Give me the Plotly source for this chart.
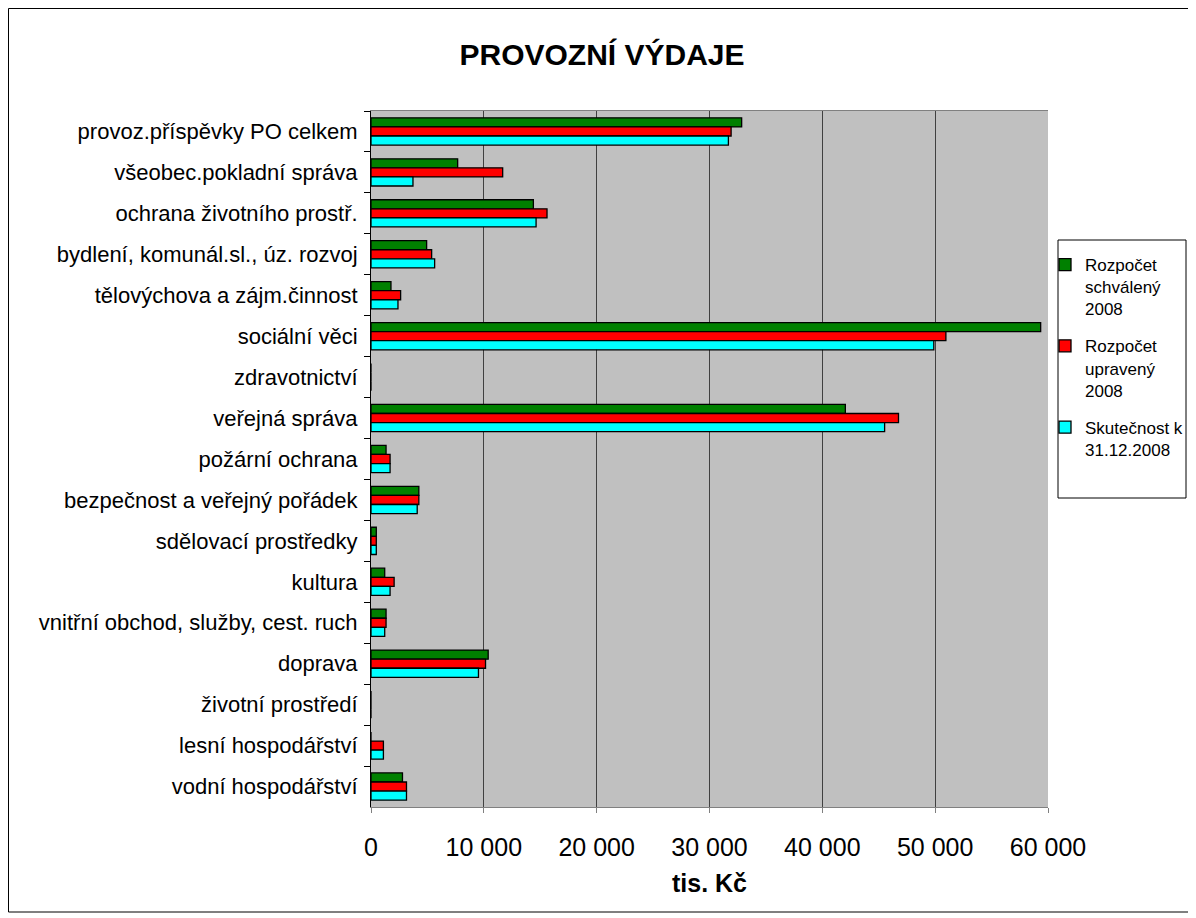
import plotly.graph_objects as go

categories = [
    "provoz.příspěvky PO celkem",
    "všeobec.pokladní správa",
    "ochrana životního prostř.",
    "bydlení, komunál.sl., úz. rozvoj",
    "tělovýchova a zájm.činnost",
    "sociální věci",
    "zdravotnictví",
    "veřejná správa",
    "požární ochrana",
    "bezpečnost a veřejný pořádek",
    "sdělovací prostředky",
    "kultura",
    "vnitřní obchod, služby, cest. ruch",
    "doprava",
    "životní prostředí",
    "lesní hospodářství",
    "vodní hospodářství",
]

schvaleny = [32850, 7680, 14390, 4930, 1770, 59350, 0, 42040, 1335, 4240, 470, 1215, 1335, 10385, 0, 0, 2790]
upraveny = [31915, 11670, 15600, 5375, 2625, 50950, 0, 46750, 1690, 4240, 470, 2050, 1335, 10150, 0, 1100, 3145]
skutecnost = [31675, 3720, 14630, 5640, 2390, 49880, 0, 45520, 1690, 4095, 470, 1690, 1215, 9525, 0, 1100, 3145]

series_names = ["Rozpočet<br>schválený<br>2008", "Rozpočet<br>upravený<br>2008", "Skutečnost k<br>31.12.2008"]
series_values = [schvaleny, upraveny, skutecnost]
series_colors = ["#008000", "#FF0000", "#00FFFF"]

x_ticks = [0, 10000, 20000, 30000, 40000, 50000, 60000]
x_ticktext = ["0", "10 000", "20 000", "30 000", "40 000", "50 000", "60 000"]

OFF = 8  # page body margin
W, H = 1196 - OFF, 918 - OFF
PL, PR, PT, PB = 371, 1048, 111, 807  # plot area in page pixels
L, R, T, B = PL - OFF, W - (PR - OFF), PT - OFF, H - (PB - OFF)
pw, ph = W - L - R, H - T - B

def px(x):
    return (x - OFF - L) / pw

def py(y):
    return (H - B - (y - OFF)) / ph

fig = go.Figure()
for i, (name, vals, col) in enumerate(zip(series_names, series_values, series_colors)):
    fig.add_trace(go.Bar(
        y=categories, x=vals, name=name, orientation="h", legendgroup=f"g{i}",
        marker=dict(color=col, line=dict(color="black", width=1.3)),
    ))

fig.update_layout(
    width=W, height=H,
    margin=dict(l=L, r=R, t=T, b=B, autoexpand=False),
    paper_bgcolor="white",
    plot_bgcolor="#C0C0C0",
    barmode="group",
    bargap=0.335,
    bargroupgap=0,
    font=dict(family="Liberation Sans, Arial, sans-serif", color="black"),
    title=dict(text="<b>PROVOZNÍ VÝDAJE</b>", x=(602 - OFF) / W, xanchor="center",
               y=1 - (54 - OFF) / H, yanchor="middle", font=dict(size=30)),
    showlegend=True,
    legend=dict(x=px(1045), y=py(247), xanchor="left", yanchor="top",
                bgcolor="rgba(0,0,0,0)", borderwidth=0, valign="top",
                font=dict(size=17), tracegroupgap=12, itemwidth=30),
    separators=", ",
    shapes=[
        dict(type="rect", xref="paper", yref="paper",
             x0=px(8.5), x1=px(1188.5), y0=py(912), y1=py(8.5),
             line=dict(color="black", width=1), layer="below"),
        dict(type="rect", xref="paper", yref="paper",
             x0=px(1058), x1=px(1186), y0=py(498), y1=py(240),
             line=dict(color="black", width=1), fillcolor="white", layer="below"),
    ],
)

fig.update_xaxes(
    range=[0, 60000], tickvals=x_ticks, ticktext=x_ticktext,
    tickfont=dict(size=25), showgrid=True, gridcolor="#404040", gridwidth=1,
    zeroline=False, showline=True, linecolor="#808080", linewidth=1, mirror=True,
    ticks="outside", ticklen=5, tickcolor="#808080", ticklabelstandoff=13,
    title=dict(text="<b>tis. Kč</b>", font=dict(size=25), standoff=14),
)
fig.update_yaxes(
    autorange="reversed", categoryorder="array", categoryarray=categories,
    tickfont=dict(size=22), showline=True, linecolor="black", linewidth=1,
    mirror=False, ticks="outside", tickson="boundaries", ticklen=6, tickcolor="black",
    ticklabelstandoff=8, showgrid=False,
)

fig.write_html("out.html")
